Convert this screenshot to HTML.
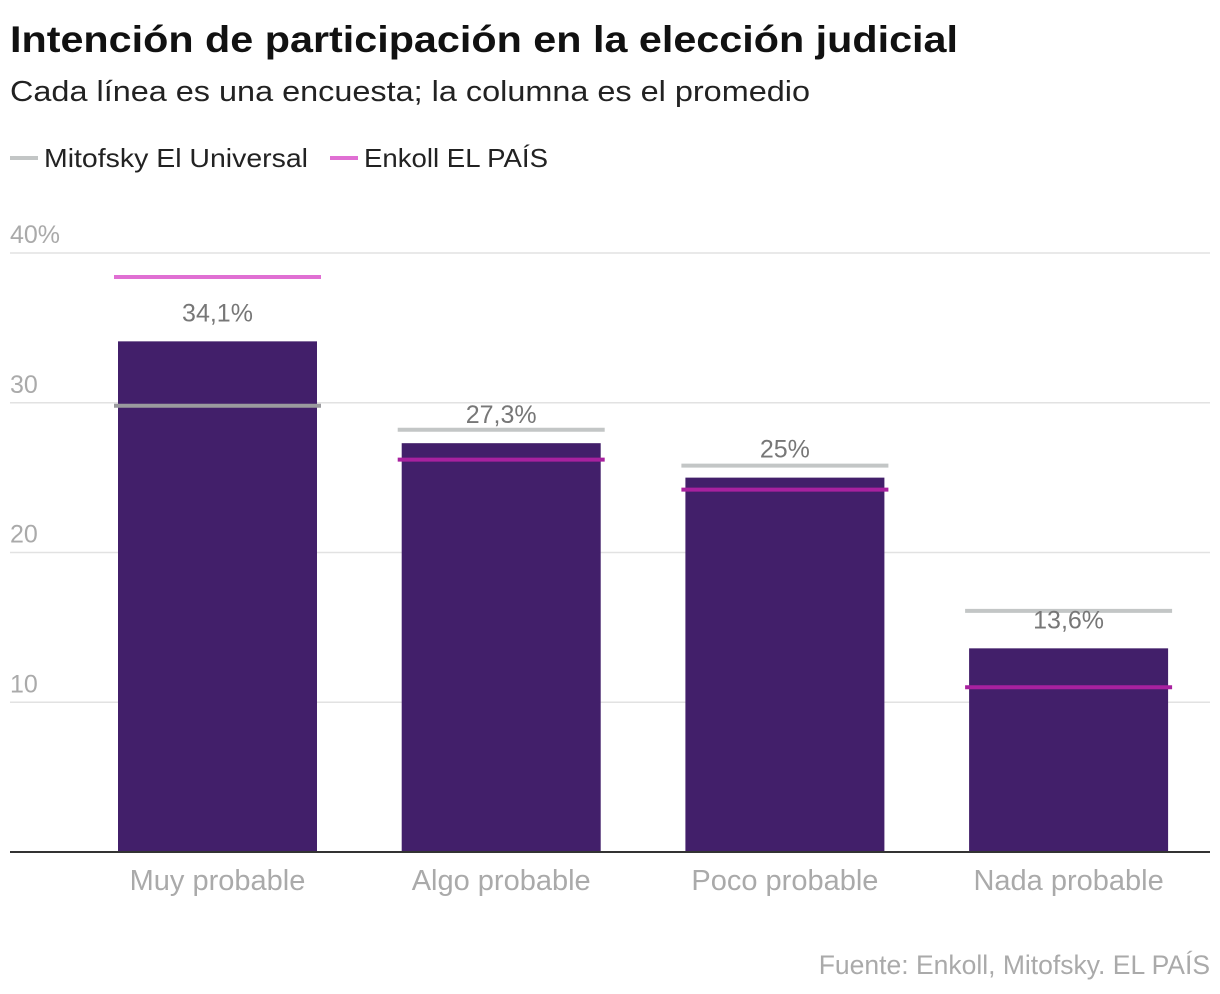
<!DOCTYPE html>
<html><head><meta charset="utf-8"><style>
body{margin:0;background:#fff;width:1220px;height:994px;overflow:hidden;font-family:"Liberation Sans",sans-serif}
svg{display:block}
</style></head><body>
<svg width="1220" height="994">
<text x="10" y="52" font-size="37" font-weight="bold" fill="#111" textLength="948" lengthAdjust="spacingAndGlyphs">Intención de participación en la elección judicial</text>
<text x="10" y="101" font-size="29" fill="#222" textLength="800" lengthAdjust="spacingAndGlyphs">Cada línea es una encuesta; la columna es el promedio</text>
<g>
<g><rect x="10" y="156" width="28" height="4" fill="#c3c6c6"/><text x="44" y="167" font-size="26" fill="#222" textLength="264" lengthAdjust="spacingAndGlyphs">Mitofsky El Universal</text></g>
<g><rect x="330" y="156" width="28" height="4" fill="#e06fd3"/><text x="364" y="167" font-size="26" fill="#222" textLength="184" lengthAdjust="spacingAndGlyphs">Enkoll EL PAÍS</text></g>
</g>
<g id="grid"></g><g id="bars"></g><g id="lines"></g><g id="labels"></g>
<text x="1210" y="974" text-anchor="end" font-size="26.5" fill="#aaa">Fuente: Enkoll, Mitofsky. EL PAÍS</text>
</svg>
<script>
const categories=["Muy probable","Algo probable","Poco probable","Nada probable"];
const averages=[34.1,27.3,25,13.6];
const avgLabels=["34,1%","27,3%","25%","13,6%"];
const mitofsky=[29.8,28.2,25.8,16.1];
const enkoll=[38.4,26.2,24.2,11.0];
const ticks=[0,10,20,30,40];
const tickLabels=["","10","20","30","40%"];
const NS="http://www.w3.org/2000/svg";
const y=v=>852-v*14.975;
const band=i=>118+i*283.7;
const bw=199;
function mk(p,t,a){const e=document.createElementNS(NS,t);for(const k in a)e.setAttribute(k,a[k]);p.appendChild(e);return e;}
const g=document.getElementById('grid');
ticks.forEach((t,i)=>{
 if(t>0){const l=mk(g,'line',{x1:10,x2:1210,y1:y(t),y2:y(t),stroke:'#e2e2e2','stroke-width':1.5});
 
 
 const tx=mk(g,'text',{x:10,y:y(t)-10,'font-size':25,fill:'#aaa'});tx.textContent=tickLabels[i];
 
 }
});
const b=document.getElementById('bars'),ln=document.getElementById('lines'),lb=document.getElementById('labels');
categories.forEach((c,i)=>{
 const x=band(i);
 const r=mk(b,'rect',{x:x,y:y(averages[i]),width:bw,height:852-y(averages[i]),fill:'#421f6a'});
 
 
 [[mitofsky[i],'#c3c6c6','#9a9a9e','mitofsky'],[enkoll[i],'#e06fd3','#a8219f','enkoll']].forEach(([v,cl,cd,n])=>{
  const col=v<=averages[i]?cd:cl;
  const l=mk(ln,'line',{x1:x-4,x2:x+bw+4,y1:y(v),y2:y(v),stroke:col,'stroke-width':4});
  
  
 });
 const t=mk(lb,'text',{x:x+bw/2,y:y(averages[i])-20,'text-anchor':'middle','font-size':25,fill:'#777'});
 t.textContent=avgLabels[i];
 
 
 const ct=mk(lb,'text',{x:x+bw/2,y:890,'text-anchor':'middle','font-size':29,fill:'#aaa'});
 ct.textContent=c;
 
 
});
const ax=mk(g.parentNode,'line',{x1:10,x2:1210,y1:852,y2:852,stroke:'#333','stroke-width':2});


</script>
</body></html>
